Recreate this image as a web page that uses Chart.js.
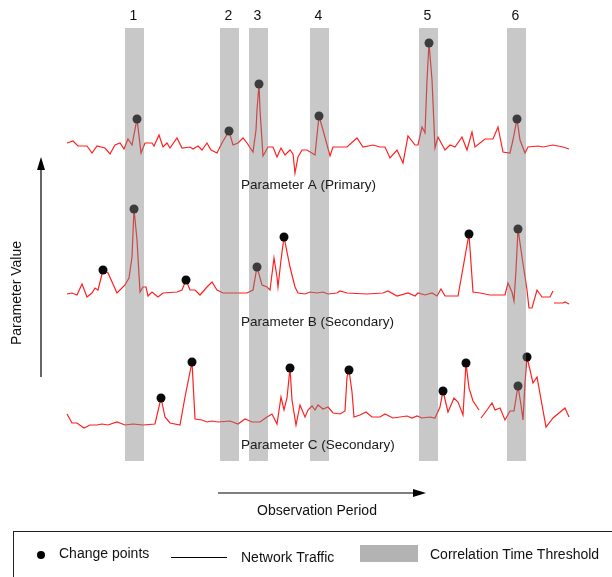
<!DOCTYPE html>
<html>
<head>
<meta charset="utf-8">
<script src="https://cdn.jsdelivr.net/npm/chart.js@4"></script>
<style>
  html, body { margin: 0; padding: 0; background: #fff; }
  canvas { display: block; }
</style>
</head>
<body>
<canvas id="c" width="612" height="577"></canvas>
<script>
// ---- Data (observation time, parameter value relative to each series' baseline) ----
const seriesNames = ["Parameter A (Primary)", "Parameter B (Secondary)", "Parameter C (Secondary)"];
const seriesOffsets = [316, 167, 39];

const aT = [1,7,12,21,26,31,39,44,49,54,58,62,66,71,75,79,86,88,93,97,101,104,111,116,124,127,132,136,141,145,151,156,163,167,172,177,181,187,190,191,193,194,197,202,207,211,215,219,224,227,229,232,236,241,249,253,257,264,267,274,281,291,297,307,314,319,324,331,337,342,349,352,356,359,361,363,366,369,372,379,384,389,396,401,406,409,419,427,432,437,444,447,451,454,459,462,472,477,487,497,503];
const aV = [2,4,-1,-1,-8,-1,-3,-9,0,2,-4,6,0,26,-8,2,2,-1,10,-2,2,-3,7,-3,-2,-4,-1,-5,2,-5,-8,2,14,0,2,7,2,-7,15,35,61,35,-11,-2,-2,-12,-3,-10,-5,-9,-28,-12,-5,-5,-10,29,15,-11,-2,-2,-2,7,-2,0,-2,-2,-13,-5,-18,9,0,0,18,12,65,102,65,-3,8,-5,0,-2,8,-5,13,-2,6,6,18,-7,-8,5,26,5,-8,-2,-1,-2,0,-2,-4];

const bT = [1,6,11,16,21,26,29,32,37,42,51,59,63,66,68,71,74,77,80,82,86,92,97,111,116,120,124,129,134,141,146,151,157,164,174,181,187,191,196,201,204,208,211,212,215,218,224,229,232,239,244,251,257,262,271,274,281,301,317,322,331,342,349,352,359,366,371,375,379,392,397,403,407,414,424,439,442,446,448,450,452,456,461,463,466,471,476,479,484,487,487.5,488,497,499,503];
const bV = [0,1,-1,10,-3,1,6,4,24,21,1,9,16,37,85,54,2,7,7,-2,2,-3,1,2,4,14,4,4,-1,7,12,4,1,1,1,1,4,27,9,7,4,36,17,7,34,57,27,7,1,0,2,1,2,0,1,3,1,0,1,3,-2,1,-2,1,-1,1,-2,5,-2,-2,26,60,2,1,-1,-1,11,2,-7,24,65,37,4,-14,-14,4,-3,-3,-3,3,null,-9,-9,-8,-10];

const cT = [1,6,11,18,24,31,36,42,51,59,67,77,89,95,99,104,114,119,126,129,136,141,146,152,164,172,179,186,194,201,206,211,215,218,221,224,226,230,234,239,242,246,249,252,257,262,267,274,279,281,283,286,288,294,300,306,314,319,327,341,346,351,356,364,369,374,377,382,388,392,397,400,403,407,413,414,415,421,426,429,434,439,444,448,452,455,457,459,461,467,471,480,487,499,503];
const cV = [8,-1,-1,-6,-3,-3,-2,-3,0,-3,-2,-3,-2,24,5,-1,-3,25,60,3,2,0,1,0,1,-2,3,0,0,5,8,-2,25,12,24,54,22,-3,17,5,12,16,12,17,13,15,9,8,11,45,52,30,5,7,10,5,5,8,4,6,4,6,4,5,4,15,31,10,24,20,7,59,34,21,12,null,4,12,19,12,14,2,11,11,36,17,2,39,65,39,45,-5,4,14,5];

// Change points (time, value)
const aDotT = [71,163,193,253,363,451];
const aDotV = [26,14,61,29,102,26];
const bDotT = [37,68,120,191,218,403,452];
const bDotV = [24,85,14,27,57,60,65];
const cDotT = [95,126,224,283,377,400,452,461];
const cDotV = [24,60,54,52,31,59,36,65];

// Correlation time threshold windows
const bandLabels = ["1","2","3","4","5","6"];
const bandStart = [59,154,183,244,353,441];
const bandEnd   = [78,173,202,263,372,460];

const axisXTitle = "Observation Period";
const axisYTitle = "Parameter Value";
const legendLabels = ["Change points", "Network Traffic", "Correlation Time Threshold"];

// ---- Build datasets ----
function pts(ts, vs, off) {
  return ts.map((t, i) => ({ x: t, y: vs[i] === null ? null : vs[i] + off }));
}
const lineStyle = { order: 2, borderColor: '#ff2020', borderWidth: 1.2, pointRadius: 0, tension: 0, spanGaps: false, fill: false };
const dotStyle = { order: 1, showLine: false, pointRadius: 4.5, pointHoverRadius: 4.5, pointBackgroundColor: '#0a0a0a', pointBorderColor: '#0a0a0a', borderWidth: 0 };

const datasets = [
  Object.assign({ data: pts(aT, aV, seriesOffsets[0]) }, lineStyle),
  Object.assign({ data: pts(bT, bV, seriesOffsets[1]) }, lineStyle),
  Object.assign({ data: pts(cT, cV, seriesOffsets[2]) }, lineStyle),
  Object.assign({ data: pts(aDotT, aDotV, seriesOffsets[0]) }, dotStyle),
  Object.assign({ data: pts(bDotT, bDotV, seriesOffsets[1]) }, dotStyle),
  Object.assign({ data: pts(cDotT, cDotV, seriesOffsets[2]) }, dotStyle)
];

const FONT = '"Liberation Sans", Arial, sans-serif';

const overlay = {
  id: 'overlay',
  afterDatasetsDraw(chart) {
    const ctx = chart.ctx, xs = chart.scales.x, ca = chart.chartArea;
    ctx.save();
    // bands (semi-transparent, over the lines)
    ctx.fillStyle = 'rgba(128,128,128,0.43)';
    bandStart.forEach((s, i) => {
      const x0 = xs.getPixelForValue(s), x1 = xs.getPixelForValue(bandEnd[i]);
      ctx.fillRect(x0, ca.top, x1 - x0, ca.bottom - ca.top);
    });
    // band labels
    ctx.fillStyle = '#111';
    ctx.font = '14px ' + FONT;
    ctx.textAlign = 'center';
    ctx.textBaseline = 'middle';
    bandStart.forEach((s, i) => {
      const xc = xs.getPixelForValue((s + bandEnd[i]) / 2) - 1;
      ctx.fillText(bandLabels[i], xc, 16);
    });
    // series names
    ctx.fillStyle = '#1a1a1a';
    ctx.font = '13.5px ' + FONT;
    ctx.textAlign = 'left';
    const nameY = [185, 322, 445];
    seriesNames.forEach((n, i) => ctx.fillText(n, 241, nameY[i]));

    // y arrow
    ctx.strokeStyle = '#000'; ctx.fillStyle = '#000'; ctx.lineWidth = 1.2;
    ctx.beginPath(); ctx.moveTo(41, 377); ctx.lineTo(41, 166); ctx.stroke();
    ctx.beginPath(); ctx.moveTo(41, 157); ctx.lineTo(45, 170); ctx.lineTo(37, 170); ctx.closePath(); ctx.fill();
    // x arrow
    ctx.beginPath(); ctx.moveTo(218, 493); ctx.lineTo(416, 493); ctx.stroke();
    ctx.beginPath(); ctx.moveTo(426, 493); ctx.lineTo(413, 489); ctx.lineTo(413, 497); ctx.closePath(); ctx.fill();

    // axis titles
    ctx.fillStyle = '#111';
    ctx.font = '14px ' + FONT;
    ctx.textAlign = 'center';
    ctx.fillText(axisXTitle, 317, 511);
    ctx.save();
    ctx.translate(17, 293);
    ctx.rotate(-Math.PI / 2);
    ctx.fillText(axisYTitle, 0, 0);
    ctx.restore();

    // legend box
    ctx.strokeStyle = '#222'; ctx.lineWidth = 1;
    ctx.strokeRect(13.5, 531.5, 640, 80);
    // change point marker
    ctx.fillStyle = '#000';
    ctx.beginPath(); ctx.arc(41, 555, 4, 0, Math.PI * 2); ctx.fill();
    ctx.textAlign = 'left';
    ctx.fillStyle = '#111';
    ctx.fillText(legendLabels[0], 59, 554);
    // line marker
    ctx.strokeStyle = '#000'; ctx.lineWidth = 1.2;
    ctx.beginPath(); ctx.moveTo(171, 557.5); ctx.lineTo(227, 557.5); ctx.stroke();
    ctx.fillText(legendLabels[1], 241, 558);
    // band marker
    ctx.fillStyle = '#b3b3b3';
    ctx.fillRect(360, 545, 58, 17);
    ctx.fillStyle = '#111';
    ctx.fillText(legendLabels[2], 430, 555);
    ctx.restore();
  }
};

new Chart(document.getElementById('c'), {
  type: 'line',
  data: { datasets },
  options: {
    responsive: false,
    animation: false,
    events: [],
    layout: { padding: { left: 66, right: 42, top: 28, bottom: 116 } },
    plugins: { legend: { display: false }, tooltip: { enabled: false } },
    scales: {
      x: { type: 'linear', min: 0, max: 504, display: false },
      y: { type: 'linear', min: 0, max: 433, display: false }
    }
  },
  plugins: [overlay]
});
</script>
</body>
</html>
